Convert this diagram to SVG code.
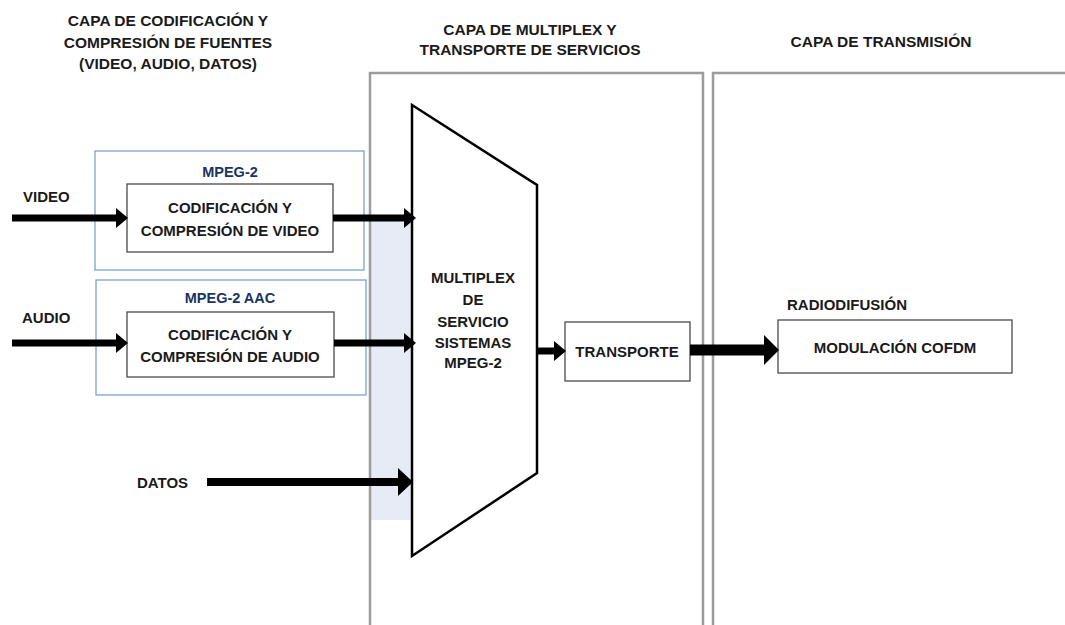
<svg xmlns="http://www.w3.org/2000/svg" width="1065" height="625" viewBox="0 0 1065 625">
<style>
text{font-family:"Liberation Sans",Arial,sans-serif;font-weight:bold;fill:#1a1a1a;}
.t{font-size:15.5px;text-anchor:middle;}
.b{font-size:15px;text-anchor:middle;}
.l{font-size:15px;}
.mp{font-size:14.5px;text-anchor:middle;fill:#1c355e;}
.layer{fill:none;stroke:#9c9c9c;stroke-width:2.5;}
.outer{fill:#fff;stroke:#7aa3cc;stroke-width:1.3;}
.inner{fill:#fff;stroke:#4a4a4a;stroke-width:1.3;}
.c{stroke:#000;fill:none;}
</style>
<defs>
<marker id="ah" markerUnits="userSpaceOnUse" viewBox="0 0 12 20" markerWidth="12" markerHeight="20" refX="0" refY="10" orient="auto">
<path d="M0,0 L12,10 L0,20 z" fill="#000"/>
</marker>
<marker id="ahL" markerUnits="userSpaceOnUse" viewBox="0 0 15 28" markerWidth="15" markerHeight="28" refX="0" refY="14" orient="auto">
<path d="M0,0 L15,14 L0,28 z" fill="#000"/>
</marker>
<marker id="ahXL" markerUnits="userSpaceOnUse" viewBox="0 0 15 30" markerWidth="15" markerHeight="30" refX="0" refY="15" orient="auto">
<path d="M0,0 L15,15 L0,30 z" fill="#000"/>
</marker>
</defs>
<rect width="1065" height="625" fill="#fff"/>

<g id="layer-codificacion">
<text class="t" x="168" y="26">CAPA DE CODIFICACIÓN Y</text>
<text class="t" x="168" y="48">COMPRESIÓN DE FUENTES</text>
<text class="t" x="168" y="69">(VIDEO, AUDIO, DATOS)</text>
</g>
<g id="layer-multiplex">
<rect x="371" y="220" width="41" height="300" fill="#e7ebf5"/>
<path class="layer" d="M370,640 V73 H703 V640"/>
<text class="t" x="530" y="35">CAPA DE MULTIPLEX Y</text>
<text class="t" x="530" y="55">TRANSPORTE DE SERVICIOS</text>
</g>
<g id="layer-transmision">
<path class="layer" d="M713,640 V73 H1070"/>
<text class="t" x="881" y="47">CAPA DE TRANSMISIÓN</text>
</g>

<g id="mpeg2-video">
<rect class="outer" x="95" y="151" width="269" height="119"/>
<text class="mp" x="230" y="177">MPEG-2</text>
<rect class="inner" x="127" y="184" width="206" height="68"/>
<text class="b" x="230" y="213">CODIFICACIÓN Y</text>
<text class="b" x="230" y="236">COMPRESIÓN DE VIDEO</text>
</g>
<g id="mpeg2-audio">
<rect class="outer" x="96" y="280" width="270" height="115"/>
<text class="mp" x="230" y="303">MPEG-2 AAC</text>
<rect class="inner" x="127" y="312" width="207" height="65"/>
<text class="b" x="230" y="340">CODIFICACIÓN Y</text>
<text class="b" x="230" y="362">COMPRESIÓN DE AUDIO</text>
</g>

<g id="label-video"><text class="l" x="23" y="202">VIDEO</text></g>
<g id="label-audio"><text class="l" x="22" y="323">AUDIO</text></g>
<g id="label-datos"><text class="l" x="137" y="488">DATOS</text></g>

<g id="multiplex">
<polygon points="412,105 537,185 537,473 412,556" fill="#fff" stroke="#000" stroke-width="2.5" stroke-linejoin="miter"/>
<text class="b" x="473" y="283">MULTIPLEX</text>
<text class="b" x="473" y="305">DE</text>
<text class="b" x="473" y="327">SERVICIO</text>
<text class="b" x="473" y="348">SISTEMAS</text>
<text class="b" x="473" y="368">MPEG-2</text>
</g>

<g id="transporte">
<rect class="inner" x="565" y="322" width="125" height="59"/>
<text class="b" x="627" y="357">TRANSPORTE</text>
</g>

<g id="modulacion">
<text class="l" x="787" y="310">RADIODIFUSIÓN</text>
<rect class="inner" x="778" y="320" width="234" height="53"/>
<text class="b" x="895" y="353">MODULACIÓN COFDM</text>
</g>

<g id="connectors">
<line class="c" x1="12" y1="218" x2="116" y2="218" stroke-width="7" marker-end="url(#ah)"/>
<line class="c" x1="333" y1="218" x2="404" y2="218" stroke-width="7" marker-end="url(#ah)"/>
<line class="c" x1="12" y1="343" x2="116" y2="343" stroke-width="7" marker-end="url(#ah)"/>
<line class="c" x1="334" y1="343" x2="404" y2="343" stroke-width="7" marker-end="url(#ah)"/>
<line class="c" x1="207" y1="482" x2="398" y2="482" stroke-width="8" marker-end="url(#ahL)"/>
<line class="c" x1="537" y1="351" x2="554" y2="351" stroke-width="7" marker-end="url(#ah)"/>
<line class="c" x1="690" y1="350" x2="764" y2="350" stroke-width="11" marker-end="url(#ahXL)"/>
</g>
</svg>
